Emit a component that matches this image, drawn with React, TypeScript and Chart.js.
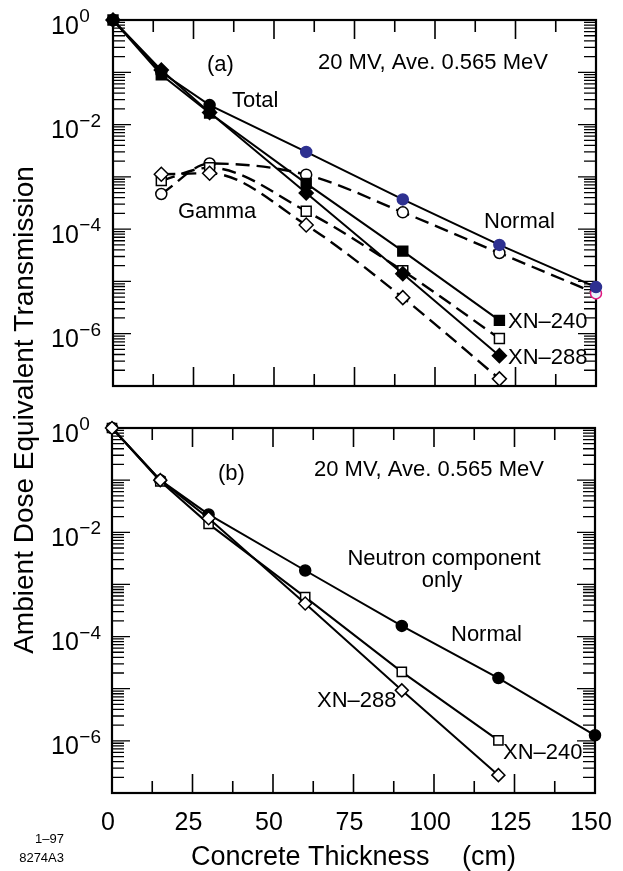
import React, { useEffect, useRef } from "react";
import { Chart, registerables } from "chart.js";

Chart.register(...registerables);

const W = 623;
const H = 871;
const FONT = "'Liberation Sans', Arial, Helvetica, sans-serif";

// ---------- data ----------
const thickness = [0, 15, 30, 60, 90, 120, 150];
const gammaThickness = [15, 30, 60, 90, 120, 150];

// panel (a) totals
const totalNormal = [1.0, 0.1, 0.0236, 3.0e-3, 3.7e-4, 5.0e-5, 7.8e-6];
const totalXN240 = [1.0, 0.09, 0.0166, 7.5e-4, 3.8e-5, 1.8e-6];
const totalXN288 = [1.0, 0.11, 0.017, 4.9e-4, 1.4e-5, 3.8e-7];
// panel (a) gamma components
const gammaNormal = [4.7e-4, 1.8e-3, 1.1e-3, 2.1e-4, 3.5e-5, 5.9e-6];
const gammaXN240 = [8.5e-4, 1.5e-3, 2.2e-4, 1.6e-5, 8.1e-7];
const gammaXN288 = [1.12e-3, 1.17e-3, 1.2e-4, 4.9e-6, 1.37e-7];

// panel (b) neutron component only
const neutronNormal = [1.0, 0.1, 0.022, 1.85e-3, 1.6e-4, 1.6e-5, 1.28e-6];
const neutronXN240 = [1.0, 0.095, 0.0145, 5.7e-4, 2.1e-5, 1.02e-6];
const neutronXN288 = [1.0, 0.1, 0.0186, 4.3e-4, 9.3e-6, 2.2e-7];

// ticks
const xMajorTicks = [0, 25, 50, 75, 100, 125, 150];
const xMinorTicks = [12.5, 37.5, 62.5, 87.5, 112.5, 137.5];
const yDecades = [0, -1, -2, -3, -4, -5, -6, -7];
const yMinorMultipliers = [2, 3, 4, 5, 6, 7, 8, 9];
const yLabelExponents = [0, -2, -4, -6];

const xTitleMain = "Concrete Thickness";
const xTitleUnit = "(cm)";
const yTitle = "Ambient Dose Equivalent Transmission";
const footnote1 = "1–97";
const footnote2 = "8274A3";

// ---------- styles ----------
const BLUE = "#2e3191";
const PINK = "#e2177f";
const totalNormalColors = ["#000", "#000", "#000", BLUE, BLUE, BLUE, BLUE];
const gammaNormalBorder = ["#000", "#000", "#000", "#000", "#000", PINK];
const gammaNormalFill = ["#fff", "#fff", "#fff", "#fff", "#fff", "#e8f3fb"];

type Note = { text: string; x: number; y: number; align?: CanvasTextAlign };

const notesA: Note[] = [
  { text: "(a)", x: 207, y: 71 },
  { text: "20 MV, Ave. 0.565 MeV", x: 318, y: 68.5 },
  { text: "Total", x: 232, y: 106.5 },
  { text: "Gamma", x: 178, y: 217.5 },
  { text: "Normal", x: 484, y: 228 },
  { text: "XN–240", x: 508, y: 328 },
  { text: "XN–288", x: 508, y: 364 },
];
const notesB: Note[] = [
  { text: "(b)", x: 218, y: 480 },
  { text: "20 MV, Ave. 0.565 MeV", x: 314, y: 476 },
  { text: "Neutron component", x: 444, y: 565, align: "center" },
  { text: "only", x: 442, y: 586.5, align: "center" },
  { text: "Normal", x: 451, y: 640.5 },
  { text: "XN–240", x: 503, y: 759 },
  { text: "XN–288", x: 317, y: 707 },
];

const pts = (xs: number[], ys: number[]) => ys.map((v, i) => ({ x: xs[i], y: v }));

function framePlugin(notes: Note[], bottomPanel: boolean) {
  return {
    id: "frame",
    beforeDatasetsDraw(chart: any) {
      const { ctx, chartArea: a } = chart;
      const x = chart.scales.x;
      const y = chart.scales.y;
      ctx.save();
      ctx.strokeStyle = "#000";
      ctx.lineCap = "butt";
      ctx.lineWidth = 1.6;
      const vt = (px: number, len: number) => {
        ctx.beginPath();
        ctx.moveTo(px, a.top);
        ctx.lineTo(px, a.top + len);
        ctx.moveTo(px, a.bottom);
        ctx.lineTo(px, a.bottom - len);
        ctx.stroke();
      };
      const ht = (py: number, len: number) => {
        ctx.beginPath();
        ctx.moveTo(a.left, py);
        ctx.lineTo(a.left + len, py);
        ctx.moveTo(a.right, py);
        ctx.lineTo(a.right - len, py);
        ctx.stroke();
      };
      xMajorTicks.forEach((v) => vt(x.getPixelForValue(v), 19));
      xMinorTicks.forEach((v) => vt(x.getPixelForValue(v), 12));
      ctx.lineWidth = 1.3;
      yDecades.forEach((e) => {
        ht(y.getPixelForValue(Math.pow(10, e)), 18);
        yMinorMultipliers.forEach((m) => {
          const v = m * Math.pow(10, e - 1);
          if (v >= 1e-7 && v <= 1) ht(y.getPixelForValue(v), 12);
        });
      });
      ctx.lineWidth = 2.2;
      ctx.strokeRect(a.left, a.top, a.right - a.left, a.bottom - a.top);
      ctx.restore();
    },
    afterDraw(chart: any) {
      const { ctx } = chart;
      const x = chart.scales.x;
      const y = chart.scales.y;
      ctx.save();
      ctx.fillStyle = "#000";
      ctx.textBaseline = "alphabetic";
      // y tick labels 10^n
      yLabelExponents.forEach((e) => {
        const py = y.getPixelForValue(Math.pow(10, e));
        ctx.textAlign = "left";
        ctx.font = `25px ${FONT}`;
        ctx.fillText("10", 51, py + 13.5);
        const w = ctx.measureText("10").width;
        ctx.font = `19px ${FONT}`;
        ctx.fillText(e === 0 ? "0" : "−" + String(-e), 51 + w + 0.5, py + 2);
      });
      // annotations
      ctx.font = `22px ${FONT}`;
      notes.forEach((n) => {
        ctx.textAlign = n.align || "left";
        ctx.fillText(n.text, n.x, n.y);
      });
      if (bottomPanel) {
        ctx.font = `25px ${FONT}`;
        ctx.textAlign = "center";
        xMajorTicks.forEach((v) => ctx.fillText(String(v), x.getPixelForValue(v) - 4, 830));
        ctx.font = `27px ${FONT}`;
        ctx.textAlign = "left";
        ctx.fillText(xTitleMain, 191, 865);
        ctx.fillText(xTitleUnit, 462, 865);
        ctx.save();
        ctx.translate(33, 410);
        ctx.rotate(-Math.PI / 2);
        ctx.textAlign = "center";
        ctx.font = `28px ${FONT}`;
        ctx.fillText(yTitle, 0, 0);
        ctx.restore();
        ctx.font = `13px ${FONT}`;
        ctx.textAlign = "right";
        ctx.fillText(footnote1, 64, 843);
        ctx.fillText(footnote2, 64, 862);
      }
      ctx.restore();
    },
  };
}

function baseOptions(area: { left: number; top: number; right: number; bottom: number }) {
  return {
    animation: false as const,
    responsive: false,
    maintainAspectRatio: false,
    devicePixelRatio: 1,
    events: [] as any[],
    layout: {
      padding: { left: area.left, top: area.top, right: W - area.right, bottom: H - area.bottom },
    },
    plugins: { legend: { display: false }, tooltip: { enabled: false } },
    scales: {
      x: { type: "linear" as const, min: 0, max: 150, display: false },
      y: { type: "logarithmic" as const, min: 1e-7, max: 1, display: false },
    },
  };
}

const solid = (extra: any) => ({
  borderColor: "#000",
  borderWidth: 2,
  tension: 0,
  clip: false,
  pointBorderWidth: 1.5,
  ...extra,
});
const dashed = (extra: any) => ({
  borderColor: "#000",
  borderWidth: 2.4,
  borderDash: [14, 7],
  cubicInterpolationMode: "monotone",
  clip: false,
  pointBorderWidth: 1.5,
  ...extra,
});

export default function App() {
  const refA = useRef<HTMLCanvasElement>(null);
  const refB = useRef<HTMLCanvasElement>(null);

  useEffect(() => {
    const chartA = new Chart(refA.current as HTMLCanvasElement, {
      type: "line",
      data: {
        datasets: [
          solid({ data: pts(thickness, totalXN288), pointStyle: "rectRot", pointRadius: 7, pointBackgroundColor: "#000", pointBorderColor: "#000" }),
          solid({ data: pts(thickness, totalXN240), pointStyle: "rect", pointRadius: 7, pointBackgroundColor: "#000", pointBorderColor: "#000" }),
          solid({ data: pts(thickness, totalNormal), pointStyle: "circle", pointRadius: 5.5, pointBackgroundColor: totalNormalColors, pointBorderColor: totalNormalColors }),
          dashed({ data: pts(gammaThickness, gammaXN288), pointStyle: "rectRot", pointRadius: 7, pointBackgroundColor: "#fff", pointBorderColor: "#000" }),
          dashed({ data: pts(gammaThickness, gammaXN240), pointStyle: "rect", pointRadius: 7, pointBackgroundColor: "#fff", pointBorderColor: "#000" }),
          dashed({ data: pts(gammaThickness, gammaNormal), pointStyle: "circle", pointRadius: 5.5, pointBackgroundColor: gammaNormalFill, pointBorderColor: gammaNormalBorder }),
        ] as any,
      },
      options: baseOptions({ left: 113, top: 20, right: 596, bottom: 386 }) as any,
      plugins: [framePlugin(notesA, false) as any],
    });
    const chartB = new Chart(refB.current as HTMLCanvasElement, {
      type: "line",
      data: {
        datasets: [
          solid({ data: pts(thickness, neutronXN288), pointStyle: "rectRot", pointRadius: 6.5, pointBackgroundColor: "#fff", pointBorderColor: "#000" }),
          solid({ data: pts(thickness, neutronXN240), pointStyle: "rect", pointRadius: 6.5, pointBackgroundColor: "#fff", pointBorderColor: "#000" }),
          solid({ data: pts(thickness, neutronNormal), pointStyle: "circle", pointRadius: 5.5, pointBackgroundColor: "#000", pointBorderColor: "#000" }),
        ] as any,
      },
      options: baseOptions({ left: 112, top: 428, right: 595, bottom: 793 }) as any,
      plugins: [framePlugin(notesB, true) as any],
    });
    return () => {
      chartA.destroy();
      chartB.destroy();
    };
  }, []);

  const cs: React.CSSProperties = { position: "absolute", left: 0, top: 0, width: W, height: H };
  return (
    <div style={{ position: "absolute", left: 0, top: 0, width: W, height: H, background: "#fff" }}>
      <canvas ref={refA} width={W} height={H} style={cs} />
      <canvas ref={refB} width={W} height={H} style={cs} />
    </div>
  );
}
